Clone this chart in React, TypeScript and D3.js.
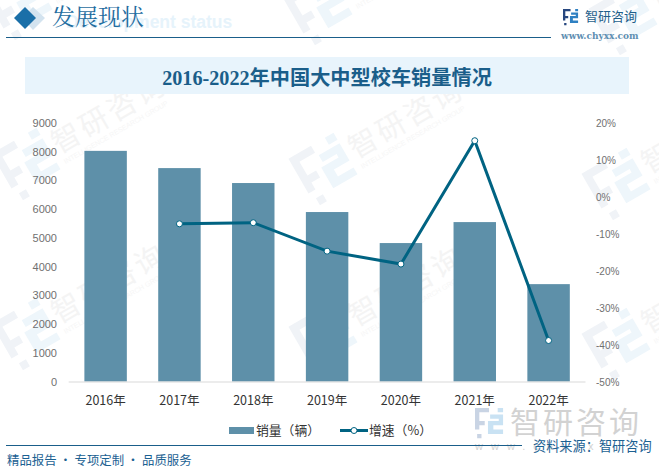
import React, { useRef, useEffect } from 'react';
import * as d3 from 'd3';

const years = ['2016年', '2017年', '2018年', '2019年', '2020年', '2021年', '2022年'];
const sales = [8030, 7430, 6910, 5900, 4820, 5550, 3390];
const growth = [null, -7.3, -7.0, -14.7, -18.2, 15.2, -38.9];
const salesTicks = [0, 1000, 2000, 3000, 4000, 5000, 6000, 7000, 8000, 9000];
const growthTicks = [-50, -40, -30, -20, -10, 0, 10, 20];
// faint background stamps, [x, y] of the logo centre
const stamps = [
  [28, 165], [325, 170], [618, 185], [28, 335], [325, 338], [618, 345], [20, 5], [320, 10], [625, 20],
];

const CJK = '"Noto Sans CJK SC", sans-serif';
const SERIF = '"Liberation Serif", "Noto Sans CJK SC", serif';
const logoDark = 'M0 0H13V4H4V12H9V16H4V20H0Z M2 24H6V28H2Z';
const logoLight = 'M21 0H26V4H21Z M14 6H26V16H17V20H26V24H12V12H22V10H14Z';

const App = () => {
  const ref = useRef<SVGSVGElement | null>(null);

  useEffect(() => {
    if (!ref.current) return;
    const svg = d3.select(ref.current);
    svg.selectAll('*').remove();

    const x = d3.scaleBand().domain(years).range([68.7, 585.5]).paddingInner(0.425).paddingOuter(0.2125);
    const yLeft = d3.scaleLinear().domain([0, 9000]).range([381.5, 123]);
    const yRight = d3.scaleLinear().domain([-50, 20]).range([381.5, 123]);

    const drawLogo = (parent: any, tf: string, dark: string, light: string) => {
      const g = parent.append('g').attr('transform', tf);
      g.append('path').attr('d', logoDark).attr('fill', dark);
      g.append('path').attr('d', logoLight).attr('fill', light);
    };

    // watermarks
    const marks = svg.append('g');
    stamps.forEach(([sx, sy]) => {
      const g = marks.append('g').attr('transform', `translate(${sx},${sy}) rotate(-30)`);
      drawLogo(g, 'translate(-26,-28) scale(2)', '#f0f3f7', '#eef6fb');
      g.append('text').attr('x', 32).attr('y', 6).attr('font-family', CJK).attr('font-size', 29)
        .attr('letter-spacing', 3).attr('fill', '#f4f4f4').text('智研咨询');
      g.append('text').attr('x', 33).attr('y', 18).attr('font-family', 'Liberation Sans').attr('font-size', 7)
        .attr('fill', '#f6f6f6').text('INTELLIGENCE RESEARCH GROUP');
    });

    // header
    svg.append('text').attr('x', 66).attr('y', 28).attr('font-family', 'Liberation Sans').attr('font-weight', 700)
      .attr('font-size', 17.5).attr('fill', '#e6f3fb').text('Development status');
    svg.append('path').attr('d', 'M33 7L45 18L33 30L22 18Z').attr('fill', '#d3e3ef');
    svg.append('path').attr('d', 'M25 7L36 18L25 29L14 18Z').attr('fill', '#1a6fa8');
    svg.append('text').attr('x', 52).attr('y', 25).attr('font-family', '"Noto Serif CJK SC", ' + CJK).attr('font-size', 23)
      .attr('fill', '#1f6d9f').text('发展现状');
    svg.append('line').attr('x1', 6).attr('x2', 551).attr('y1', 37.5).attr('y2', 37.5)
      .attr('stroke', '#1a5e8a').attr('stroke-width', 1);

    drawLogo(svg, 'translate(563,9) scale(0.58)', '#27477f', '#2f80c2');
    svg.append('text').attr('x', 585).attr('y', 21).attr('font-family', CJK).attr('font-size', 13)
      .attr('fill', '#1f5f8b').text('智研咨询');
    svg.append('text').attr('x', 561).attr('y', 39).attr('font-family', '"DejaVu Serif", serif').attr('font-size', 9)
      .attr('font-weight', 700).attr('fill', '#5f8fb2').text('www.chyxx.com');

    // title band
    svg.append('rect').attr('x', 25).attr('y', 57).attr('width', 604).attr('height', 37).attr('fill', '#e8f4fc');
    svg.append('text').attr('x', 327).attr('y', 85).attr('text-anchor', 'middle').attr('font-family', SERIF)
      .attr('font-weight', 700).attr('font-size', 20.2).attr('fill', '#1a5e8a').text('2016-2022年中国大中型校车销量情况');

    // bars
    svg.append('g').selectAll('rect').data(years).enter().append('rect')
      .attr('x', d => x(d)!)
      .attr('width', x.bandwidth())
      .attr('y', (d, i) => yLeft(sales[i]))
      .attr('height', (d, i) => yLeft(0) - yLeft(sales[i]))
      .attr('fill', '#5e90a9');

    // baseline
    svg.append('line').attr('x1', 68.7).attr('x2', 585.5).attr('y1', 382).attr('y2', 382).attr('stroke', '#d9d9d9');

    // axis labels
    svg.append('g').selectAll('text').data(salesTicks).enter().append('text')
      .attr('x', 57).attr('y', d => yLeft(d) + 4).attr('text-anchor', 'end')
      .attr('font-family', 'Liberation Sans').attr('font-size', 11).attr('fill', '#707070').text(d => d);
    svg.append('g').selectAll('text').data(growthTicks).enter().append('text')
      .attr('x', 596).attr('y', d => yRight(d) + 4)
      .attr('font-family', 'Liberation Sans').attr('font-size', 10).attr('fill', '#707070').text(d => d + '%');
    svg.append('g').selectAll('text').data(years).enter().append('text')
      .attr('x', d => x(d)! + x.bandwidth() / 2).attr('y', 405).attr('text-anchor', 'middle')
      .attr('font-family', CJK).attr('font-size', 12.5).attr('fill', '#333').text(d => d);

    // growth line
    const pts = years.map((d, i) => ({ d, v: growth[i] })).filter(p => p.v !== null) as { d: string; v: number }[];
    const line = d3.line<{ d: string; v: number }>()
      .x(p => x(p.d)! + x.bandwidth() / 2)
      .y(p => yRight(p.v));
    svg.append('path').attr('d', line(pts)).attr('fill', 'none').attr('stroke', '#006382').attr('stroke-width', 3);
    svg.append('g').selectAll('circle').data(pts).enter().append('circle')
      .attr('cx', p => x(p.d)! + x.bandwidth() / 2).attr('cy', p => yRight(p.v)).attr('r', 3)
      .attr('fill', '#fff').attr('stroke', '#006382').attr('stroke-width', 1);

    // big stamp, bottom right
    drawLogo(svg, 'translate(475,408) scale(1.08)', '#c9d4e4', '#c9e2f3');
    svg.append('text').attr('x', 510).attr('y', 433).attr('font-family', CJK).attr('font-size', 30)
      .attr('letter-spacing', 3).attr('fill', '#d2d2d2').text('智研咨询');
    svg.append('text').attr('x', 475).attr('y', 450).attr('font-family', 'Liberation Sans').attr('font-size', 11)
      .attr('letter-spacing', 8).attr('fill', '#d2d2d2').text('www.chyxx.');

    // legend
    svg.append('rect').attr('x', 229).attr('y', 427).attr('width', 25).attr('height', 7).attr('fill', '#5e90a9');
    svg.append('text').attr('x', 256).attr('y', 435).attr('font-family', CJK).attr('font-size', 12.8)
      .attr('fill', '#333').text('销量（辆）');
    svg.append('line').attr('x1', 340).attr('x2', 368).attr('y1', 430.5).attr('y2', 430.5)
      .attr('stroke', '#006382').attr('stroke-width', 3);
    svg.append('circle').attr('cx', 354).attr('cy', 430.5).attr('r', 3).attr('fill', '#fff')
      .attr('stroke', '#006382').attr('stroke-width', 1);
    svg.append('text').attr('x', 369).attr('y', 435).attr('font-family', CJK).attr('font-size', 12.8)
      .attr('fill', '#333').text('增速（%）');

    // footer
    svg.append('line').attr('x1', 6).attr('x2', 522).attr('y1', 445.5).attr('y2', 445.5)
      .attr('stroke', '#1a5e8a').attr('stroke-width', 1);
    svg.append('text').attr('x', 533).attr('y', 451).attr('font-family', CJK).attr('font-size', 13.2)
      .attr('fill', '#1b6192').text('资料来源：智研咨询');
    svg.append('text').attr('x', 7).attr('y', 465).attr('font-family', CJK).attr('font-size', 12.4)
      .attr('fill', '#1b6192').text('精品报告 · 专项定制 · 品质服务');
  }, []);

  return (
    <svg ref={ref} width={659} height={472}
      style={{ position: 'absolute', left: 0, top: 0, background: '#fff' }} />
  );
};

export default App;
